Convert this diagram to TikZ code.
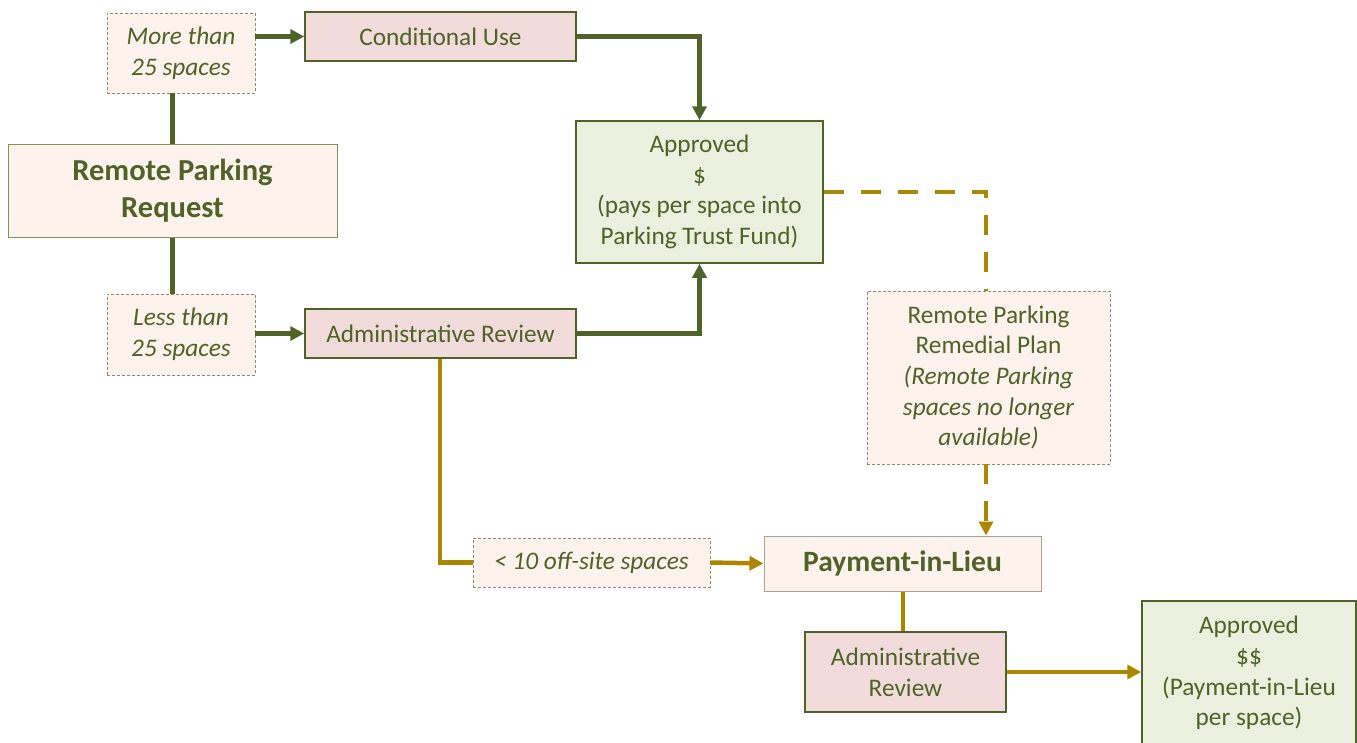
\documentclass[tikz,border=0pt]{standalone}
\usepackage{fontspec}
\setmainfont{Carlito}
\usetikzlibrary{arrows.meta}
\definecolor{dgreen}{RGB}{79,98,40}
\definecolor{gold}{RGB}{172,134,0}
\definecolor{pinkfill}{RGB}{242,220,219}
\definecolor{creamfill}{RGB}{253,242,236}
\definecolor{greenfill}{RGB}{235,241,222}
\definecolor{greyborder}{RGB}{140,140,112}
\definecolor{olborder}{RGB}{130,145,90}
\tikzset{
  base/.style={inner sep=0pt, align=center, text=dgreen, font=\fontsize{25.3}{30.7}\selectfont},
  pinkbox/.style={base, draw=dgreen, line width=1.5pt, fill=pinkfill},
  greenbox/.style={base, draw=dgreen, line width=1.5pt, fill=greenfill},
  dashbox/.style={base, draw=greyborder, line width=0.9pt, dash pattern=on 3pt off 2pt, fill=creamfill},
  creambox/.style={base, draw=olborder, line width=1pt, fill=creamfill},
  gline/.style={draw=dgreen, line width=4.5pt},
  yline/.style={draw=gold, line width=4.5pt},
  garrow/.style={gline, -{Triangle[length=14pt,width=14pt]}},
  yarrow/.style={yline, -{Triangle[length=14pt,width=14pt]}},
  ydash/.style={yline, dash pattern=on 20pt off 17pt},
}
\begin{document}
\begin{tikzpicture}[x=1pt,y=-1pt]
\useasboundingbox (0,0) rectangle (1357,742);
% nodes
\node[dashbox, minimum width=148pt, minimum height=80pt] (more) at (181,53) {\itshape More than\\\itshape 25 spaces};
\node[pinkbox, minimum width=271pt, minimum height=49pt] (cond) at (440.5,36.5) {Conditional Use};
\node[creambox, minimum width=329pt, minimum height=93pt, font=\fontsize{30.5}{37}\selectfont\bfseries] (req) at (172.5,190.5) {Remote Parking\\Request};
\node[dashbox, minimum width=148pt, minimum height=81pt] (less) at (181,334.5) {\itshape Less than\\\itshape 25 spaces};
\node[pinkbox, minimum width=271pt, minimum height=49pt] (adm) at (440.5,333.5) {Administrative Review};
\node[greenbox, minimum width=247pt, minimum height=142pt] (appr) at (699.5,192) {Approved\\\$\\(pays per space into\\Parking Trust Fund)};
\node[dashbox, minimum width=243pt, minimum height=173pt] (rem) at (988.5,377.5) {Remote Parking\\Remedial Plan\\\itshape (Remote Parking\\\itshape spaces no longer\\\itshape available)};
\node[dashbox, minimum width=237pt, minimum height=49pt] (ten) at (591.5,562.5) {\itshape < 10 off-site spaces};
\node[creambox, draw=greyborder!80, minimum width=277pt, minimum height=55pt, font=\fontsize{29.5}{36}\selectfont\bfseries] (pay) at (902.5,563.5) {Payment-in-Lieu};
\node[pinkbox, minimum width=201pt, minimum height=80pt] (adm2) at (905.5,672) {Administrative\\Review};
\node[greenbox, minimum width=214pt, minimum height=144pt] (appr2) at (1249,673) {Approved\\\$\$\\(Payment-in-Lieu\\per space)};
% connectors
\draw[gline] (req.north) -- (req.north |- more.south);
\draw[gline] (req.south) -- (req.south |- less.north);
\draw[garrow] (more.east |- cond.west) -- (cond.west);
\draw[garrow] (less.east |- adm.west) -- (adm.west);
\draw[garrow] (cond.east) -| (appr.north);
\draw[garrow] (adm.east) -| (appr.south);
\draw[ydash] (appr.east) -| (rem.north -| 986,0);
\draw[ydash, -{Triangle[length=14pt,width=14pt]}] (rem.south -| 986,0) -- (986,0 |- pay.north);
\draw[yline] (440,0 |- adm.south) |- (ten.west);
\draw[yarrow] (ten.east) -- (pay.west);
\draw[yline] (903,0 |- pay.south) -- (903,0 |- adm2.north);
\draw[yarrow] (adm2.east) -- (appr2.west |- adm2.east);
\end{tikzpicture}
\end{document}
